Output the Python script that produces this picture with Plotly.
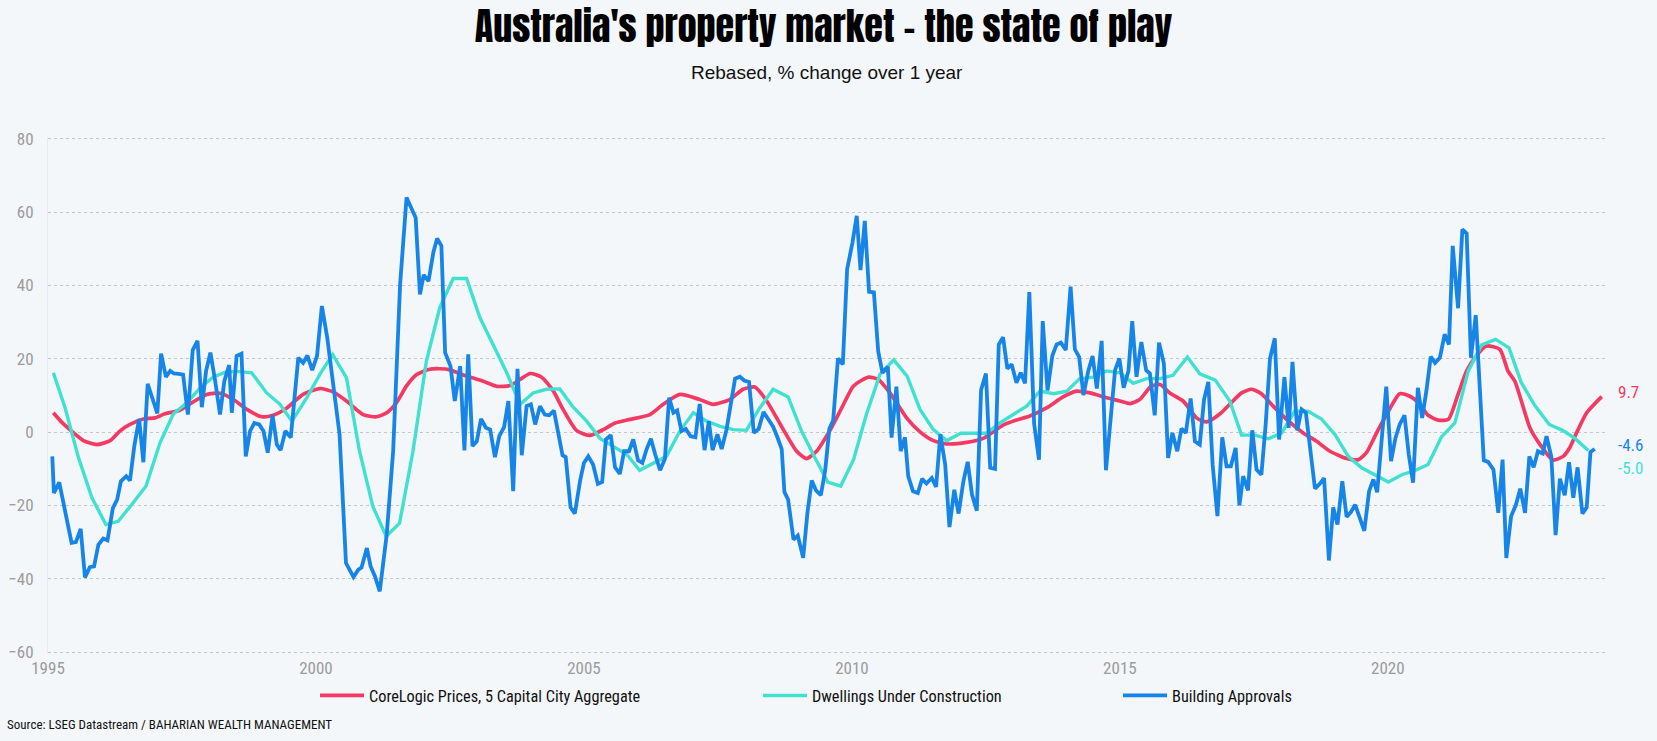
import plotly.graph_objects as go

# ---------------- data (decimal years, % change over 1 year) ----------------
cl_t = [1995.10, 1995.25, 1995.44, 1995.66, 1995.91, 1996.16, 1996.34, 1996.53, 1996.78, 1997.00,
        1997.18, 1997.46, 1997.68, 1997.96, 1998.21, 1998.46, 1998.71, 1998.99, 1999.20, 1999.45,
        1999.76, 2000.07, 2000.32, 2000.57, 2000.88, 2001.13, 2001.32, 2001.50, 2001.69, 2001.88,
        2002.10, 2002.31, 2002.50, 2002.75, 2003.12, 2003.37, 2003.62, 2003.81, 2004.00, 2004.21,
        2004.43, 2004.61, 2004.86, 2005.11, 2005.36, 2005.58, 2005.86, 2006.23, 2006.48, 2006.79,
        2007.16, 2007.41, 2007.72, 2007.97, 2008.19, 2008.41, 2008.72, 2008.97, 2009.15, 2009.34,
        2009.59, 2009.81, 2010.03, 2010.31, 2010.49, 2010.71, 2011.02, 2011.27, 2011.52, 2011.77,
        2012.14, 2012.45, 2012.82, 2013.07, 2013.32, 2013.63, 2013.94, 2014.19, 2014.44, 2014.75,
        2015.00, 2015.19, 2015.37, 2015.59, 2015.75, 2015.93, 2016.18, 2016.43, 2016.62, 2016.87,
        2017.05, 2017.27, 2017.46, 2017.64, 2017.86, 2018.11, 2018.42, 2018.67, 2018.92, 2019.23,
        2019.45, 2019.60, 2019.79, 2020.01, 2020.22, 2020.41, 2020.60, 2020.75, 2020.94, 2021.13,
        2021.31, 2021.47, 2021.65, 2021.84, 2022.09, 2022.24, 2022.37, 2022.65, 2022.84, 2023.08,
        2023.27, 2023.39, 2023.52, 2023.71, 2023.99]
cl_v = [5.3, 2.8, 0.3, -2.3, -3.4, -2.3, 0.3, 2.1, 3.6, 3.9,
        5.0, 6.0, 8.0, 10.3, 10.6, 8.9, 6.2, 4.2, 4.6, 6.5,
        10.3, 11.9, 11.0, 8.5, 4.8, 4.2, 5.3, 8.0, 12.6, 15.7,
        17.1, 17.3, 17.0, 15.6, 13.9, 12.5, 12.7, 14.4, 16.0, 15.0,
        11.2, 6.2, 0.5, -0.9, 0.7, 2.5, 3.5, 4.8, 7.6, 10.3,
        8.9, 7.6, 8.9, 11.7, 12.3, 8.5, 0.7, -5.2, -7.2, -5.2,
        0.5, 6.6, 12.6, 15.0, 14.4, 10.7, 3.9, 0.1, -2.3, -3.2,
        -2.8, -1.7, 1.9, 3.3, 4.4, 6.6, 9.6, 11.2, 10.7, 9.4,
        8.5, 7.8, 8.9, 12.6, 13.0, 10.7, 8.5, 3.9, 2.8, 5.0,
        7.6, 10.7, 11.7, 10.5, 7.1, 3.5, -0.2, -2.5, -5.2, -7.2,
        -7.5, -5.6, -0.2, 5.7, 10.5, 9.8, 7.6, 4.6, 3.3, 3.5,
        10.3, 16.7, 20.8, 23.5, 22.6, 16.7, 13.9, 1.2, -3.4, -7.6,
        -6.6, -4.3, -0.2, 5.3, 9.7]

duc_t = [1995.10, 1995.32, 1995.57, 1995.82, 1996.08, 1996.31, 1996.56, 1996.83, 1997.09, 1997.34,
         1997.59, 1997.84, 1998.08, 1998.33, 1998.58, 1998.80, 1999.08, 1999.33, 1999.55, 1999.83,
         2000.07, 2000.31, 2000.57, 2000.81, 2001.06, 2001.31, 2001.56, 2001.81, 2002.06, 2002.31,
         2002.56, 2002.81, 2003.06, 2003.31, 2003.56, 2003.81, 2004.05, 2004.30, 2004.55, 2004.80,
         2005.05, 2005.30, 2005.55, 2005.80, 2006.04, 2006.29, 2006.54, 2006.79, 2007.04, 2007.29,
         2007.54, 2007.79, 2008.03, 2008.28, 2008.53, 2008.81, 2009.06, 2009.31, 2009.55, 2009.79,
         2010.03, 2010.27, 2010.52, 2010.78, 2011.03, 2011.27, 2011.52, 2011.77, 2012.03, 2012.28,
         2012.51, 2012.76, 2013.01, 2013.26, 2013.51, 2013.76, 2014.01, 2014.25, 2014.50, 2014.75,
         2015.00, 2015.25, 2015.50, 2015.75, 2015.99, 2016.26, 2016.49, 2016.78, 2017.05, 2017.27,
         2017.52, 2017.77, 2018.02, 2018.26, 2018.51, 2018.76, 2019.01, 2019.26, 2019.51, 2019.76,
         2020.01, 2020.26, 2020.50, 2020.75, 2021.00, 2021.25, 2021.50, 2021.75, 2022.01, 2022.26,
         2022.49, 2022.74, 2023.01, 2023.26, 2023.49, 2023.74]
duc_v = [16.2, 6.6, -7.0, -17.9, -25.2, -24.3, -19.8, -14.7, -2.9, 5.0,
         8.0, 12.1, 15.0, 16.5, 16.5, 16.2, 10.7, 7.6, 3.0, 9.4,
         15.7, 21.2, 14.8, -5.0, -20.2, -28.4, -24.8, -5.2, 19.4, 34.0,
         41.9, 41.9, 31.2, 23.9, 16.2, 7.6, 10.7, 11.7, 11.8, 6.8,
         3.0, -1.7, -3.8, -6.1, -10.4, -8.6, -6.6, 0.3, 5.3, 3.0,
         1.6, 0.7, 0.5, 6.6, 11.7, 9.6, 0.3, -7.0, -13.6, -14.7,
         -7.5, 4.8, 15.7, 19.7, 15.3, 6.2, 0.7, -2.3, -0.3, -0.3,
         -0.3, 2.5, 4.8, 7.1, 11.2, 10.5, 11.2, 14.6, 15.0, 16.7,
         16.2, 13.3, 14.6, 14.6, 15.5, 20.5, 15.9, 14.2, 8.5, -0.8,
         -0.8, -1.8, -0.2, 5.7, 5.7, 3.6, -0.6, -6.6, -9.7, -11.7,
         -13.6, -11.6, -10.5, -8.8, -1.3, 2.5, 16.7, 23.8, 25.3, 23.0,
         13.5, 7.3, 2.1, 0.5, -1.7, -5.0]

ba_t = [1995.08, 1995.11, 1995.21, 1995.32, 1995.44, 1995.52, 1995.61, 1995.69, 1995.78, 1995.86,
        1995.94, 1996.03, 1996.11, 1996.21, 1996.29, 1996.36, 1996.46, 1996.53, 1996.61, 1996.70,
        1996.78, 1996.86, 1996.95, 1997.04, 1997.11, 1997.20, 1997.28, 1997.35, 1997.44, 1997.52,
        1997.61, 1997.70, 1997.79, 1997.87, 1997.95, 1998.03, 1998.12, 1998.21, 1998.29, 1998.38,
        1998.43, 1998.52, 1998.61, 1998.69, 1998.77, 1998.85, 1998.94, 1999.02, 1999.10, 1999.19,
        1999.27, 1999.34, 1999.43, 1999.53, 1999.67, 1999.76, 1999.84, 1999.93, 2000.02, 2000.11,
        2000.21, 2000.32, 2000.44, 2000.56, 2000.70, 2000.79, 2000.85, 2000.95, 2001.02, 2001.10,
        2001.19, 2001.32, 2001.44, 2001.57, 2001.69, 2001.86, 2001.94, 2002.01, 2002.10, 2002.19,
        2002.26, 2002.34, 2002.41, 2002.51, 2002.59, 2002.69, 2002.77, 2002.84, 2002.92, 2003.00,
        2003.08, 2003.17, 2003.25, 2003.34, 2003.42, 2003.51, 2003.59, 2003.68, 2003.76, 2003.84,
        2003.93, 2004.01, 2004.09, 2004.18, 2004.27, 2004.35, 2004.44, 2004.52, 2004.60, 2004.66,
        2004.75, 2004.83, 2004.93, 2005.00, 2005.08, 2005.17, 2005.26, 2005.34, 2005.41, 2005.50,
        2005.58, 2005.67, 2005.75, 2005.84, 2005.92, 2006.01, 2006.09, 2006.17, 2006.25, 2006.33,
        2006.42, 2006.51, 2006.59, 2006.67, 2006.74, 2006.82, 2006.90, 2006.99, 2007.08, 2007.16,
        2007.25, 2007.33, 2007.40, 2007.49, 2007.57, 2007.66, 2007.74, 2007.82, 2007.91, 2007.99,
        2008.08, 2008.17, 2008.26, 2008.35, 2008.44, 2008.53, 2008.61, 2008.69, 2008.74, 2008.81,
        2008.91, 2008.99, 2009.09, 2009.17, 2009.25, 2009.33, 2009.42, 2009.50, 2009.58, 2009.65,
        2009.74, 2009.83, 2009.91, 2010.01, 2010.09, 2010.16, 2010.24, 2010.32, 2010.41, 2010.49,
        2010.57, 2010.67, 2010.74, 2010.83, 2010.91, 2010.99, 2011.05, 2011.14, 2011.23, 2011.31,
        2011.39, 2011.49, 2011.57, 2011.65, 2011.74, 2011.82, 2011.91, 2011.99, 2012.08, 2012.16,
        2012.24, 2012.33, 2012.41, 2012.50, 2012.58, 2012.67, 2012.74, 2012.82, 2012.90, 2012.98,
        2013.07, 2013.15, 2013.23, 2013.31, 2013.40, 2013.49, 2013.56, 2013.65, 2013.74, 2013.82,
        2013.90, 2013.99, 2014.08, 2014.16, 2014.24, 2014.32, 2014.41, 2014.49, 2014.57, 2014.66,
        2014.74, 2014.83, 2014.91, 2014.99, 2015.07, 2015.16, 2015.23, 2015.31, 2015.40, 2015.49,
        2015.56, 2015.65, 2015.73, 2015.82, 2015.90, 2015.98, 2016.07, 2016.15, 2016.23, 2016.32,
        2016.40, 2016.49, 2016.57, 2016.65, 2016.73, 2016.82, 2016.91, 2016.99, 2017.07, 2017.16,
        2017.23, 2017.30, 2017.39, 2017.47, 2017.55, 2017.64, 2017.72, 2017.80, 2017.89, 2017.97,
        2018.07, 2018.15, 2018.22, 2018.31, 2018.39, 2018.47, 2018.56, 2018.64, 2018.73, 2018.81,
        2018.90, 2018.98, 2019.06, 2019.15, 2019.23, 2019.31, 2019.39, 2019.47, 2019.56, 2019.65,
        2019.73, 2019.80, 2019.88, 2019.97, 2020.06, 2020.14, 2020.22, 2020.31, 2020.39, 2020.47,
        2020.56, 2020.64, 2020.72, 2020.80, 2020.88, 2020.97, 2021.06, 2021.14, 2021.21, 2021.31,
        2021.39, 2021.47, 2021.55, 2021.64, 2021.79, 2021.87, 2021.97, 2022.06, 2022.14, 2022.21,
        2022.30, 2022.39, 2022.47, 2022.56, 2022.64, 2022.72, 2022.80, 2022.89, 2022.96, 2023.05,
        2023.13, 2023.21, 2023.30, 2023.38, 2023.46, 2023.54, 2023.63, 2023.71, 2023.78, 2023.86]
ba_v = [-6.6, -16.6, -13.7, -21.6, -30.2, -30.0, -26.4, -39.6, -36.8, -36.6,
        -30.7, -29.0, -29.5, -20.7, -18.4, -13.4, -12.0, -13.2, -3.8, 3.6,
        -8.2, 13.2, 9.4, 5.1, 21.4, 15.1, 16.7, 16.0, 15.9, 15.7,
        4.8, 22.4, 24.9, 6.8, 16.7, 21.7, 13.9, 4.8, 13.9, 18.3,
        5.3, 20.8, 21.4, -6.6, 0.3, 2.5, 2.1, 0.3, -5.6, 4.6,
        -3.4, -4.9, 0.3, -1.5, 20.3, 18.9, 20.9, 16.9, 20.8, 34.4,
        25.8, 13.0, -0.6, -35.7, -39.5, -37.5, -36.9, -31.6, -36.6, -39.3,
        -43.4, -27.9, -5.2, 40.3, 64.0, 58.5, 37.6, 42.9, 41.2, 49.0,
        52.8, 50.8, 21.7, 18.0, 8.5, 18.0, -5.0, 21.2, -3.8, -2.5,
        3.6, 1.2, 0.7, -6.8, -1.1, 1.4, 8.5, -16.1, 17.3, -6.3,
        7.1, 7.6, 2.1, 7.1, 4.8, 4.6, 5.9, -0.2, -6.3, -6.8,
        -20.5, -22.2, -13.1, -8.4, -6.6, -8.8, -14.1, -13.6, -2.0, -0.8,
        -9.6, -11.4, -5.2, -5.2, -2.0, -7.7, -8.4, -4.6, -1.8, -6.1,
        -10.4, -7.3, 9.4, 5.3, 5.9, 0.3, 0.9, -1.1, -1.4, 7.7,
        -4.9, 3.0, -4.9, -0.6, -4.6, 0.7, 8.0, 14.6, 15.1, 14.1,
        13.7, -0.2, 0.9, 5.5, 3.5, 1.5, -1.4, -4.6, -16.3, -18.4,
        -29.3, -28.2, -34.3, -22.0, -13.2, -15.9, -17.2, -10.5, 1.0, 3.2,
        20.1, 18.5, 44.4, 51.7, 59.0, 44.2, 57.6, 38.3, 38.1, 22.1,
        16.2, 17.8, -1.5, 12.4, -5.2, -1.4, -12.0, -16.1, -16.6, -12.7,
        -14.0, -12.5, -14.9, -0.6, -8.8, -25.9, -15.7, -22.2, -13.4, -8.1,
        -17.0, -21.4, 11.5, 16.0, -9.7, -10.0, 23.9, 25.9, 17.3, 18.5,
        13.5, 16.2, 13.3, 38.2, 2.3, -7.5, 30.3, 11.4, 20.9, 23.9,
        24.4, 22.4, 39.7, 22.6, 20.5, 10.1, 16.7, 20.8, 11.9, 24.9,
        -10.4, 3.9, 16.9, 20.1, 12.1, 16.7, 30.3, 15.1, 24.6, 16.9,
        16.0, 4.6, 24.4, 18.8, -7.0, -0.2, -5.2, 1.0, -0.2, 9.2,
        -2.5, -3.4, 8.9, 13.7, -8.8, -22.9, -1.4, -9.3, -9.3, -4.3,
        -20.0, -12.0, -15.9, 0.5, -10.2, -11.6, 2.1, 20.0, 25.6, -2.0,
        15.0, 1.2, 19.2, 0.5, 6.2, 5.3, -5.2, -15.4, -14.1, -12.5,
        -35.0, -20.5, -25.2, -13.4, -23.1, -21.8, -19.8, -23.1, -26.9, -16.1,
        -12.9, -16.4, -2.5, 12.4, -7.9, -1.7, 2.1, 4.6, -6.1, -13.8,
        12.1, 3.9, 11.4, 20.6, 18.9, 20.3, 26.7, 23.9, 50.8, 33.8,
        55.3, 54.2, 20.3, 31.9, -7.7, -8.1, -10.2, -22.0, -7.5, -34.3,
        -22.9, -19.8, -15.4, -22.0, -6.6, -9.6, -5.2, -5.8, -1.1, -6.7,
        -28.1, -12.7, -17.2, -8.2, -17.9, -9.6, -22.2, -20.5, -5.4, -4.6]

year_ticks = [1995, 2000, 2005, 2010, 2015, 2020]
y_ticks = [-60, -40, -20, 0, 20, 40, 60, 80]

names = ["CoreLogic Prices, 5 Capital City Aggregate", "Dwellings Under Construction", "Building Approvals"]
colors = ["#f43a63", "#41e1d1", "#1785e8"]

COND = "Roboto Condensed, Oswald, DejaVu Sans Condensed, sans-serif"

fig = go.Figure()
fig.add_trace(go.Scatter(x=cl_t, y=cl_v, mode="lines", name=names[0],
                         line=dict(color=colors[0], width=3.7, shape="spline", smoothing=0.6),
                         legend="legend"))
fig.add_trace(go.Scatter(x=duc_t, y=duc_v, mode="lines", name=names[1],
                         line=dict(color=colors[1], width=3.4), legend="legend2"))
fig.add_trace(go.Scatter(x=ba_t, y=ba_v, mode="lines", name=names[2],
                         line=dict(color=colors[2], width=3.8), legend="legend3"))

# end-value labels
series_last = [(cl_v[-1], colors[0], 5),
               (ba_v[-1], colors[2], 4),
               (duc_v[-1], colors[1], -17)]
for v, c, ys in series_last:
    fig.add_annotation(x=1, xref="paper", y=v, yref="y", text=f"{v:.1f}",
                       showarrow=False, xanchor="left", yanchor="middle", xshift=10, yshift=ys,
                       font=dict(family=COND, size=17, color=c))

# subtitle & source
fig.add_annotation(x=0.5, xref="paper", y=1.1257, yref="paper", text="Rebased, % change over 1 year",
                   showarrow=False, xanchor="center", yanchor="middle",
                   font=dict(family="Liberation Sans, Arial, sans-serif", size=19, color="#111"))
fig.add_annotation(x=-0.0275, xref="paper", y=-0.137, yref="paper",
                   text="Source: LSEG Datastream / BAHARIAN WEALTH MANAGEMENT",
                   showarrow=False, xanchor="left", yanchor="middle",
                   font=dict(family=COND, size=13, color="#111"))

legend_common = dict(orientation="h", yanchor="middle", y=-0.081, xanchor="left",
                     bgcolor="rgba(0,0,0,0)", itemwidth=44,
                     font=dict(family=COND, size=16.3, color="#111"))
fig.update_layout(
    width=1657, height=741,
    paper_bgcolor="#f3f7fa", plot_bgcolor="#f3f7fa",
    margin=dict(l=48, r=51, t=137, b=87, pad=0, autoexpand=False),
    title=dict(text="Australia's property market - the state of play", x=0.497, xref="container",
               xanchor="center", y=1 - 29 / 741, yref="container", yanchor="middle",
               font=dict(family="Anton, Impact, Oswald, sans-serif", size=38, color="#000")),
    xaxis=dict(range=[1995, 2024.07], tickmode="array", tickvals=year_ticks,
               ticktext=[str(y) for y in year_ticks], showgrid=False, zeroline=False,
               showline=False, ticks="", ticklabelstandoff=2, automargin=False,
               tickfont=dict(family=COND, size=17, color="#9b9b9b")),
    yaxis=dict(range=[-60.5, 80.5], tickmode="array", tickvals=y_ticks,
               showgrid=True, gridcolor="#c4c7ca", griddash="dot", gridwidth=1,
               zeroline=False, showline=True, linecolor="#e4ecf3", linewidth=1,
               ticks="", ticklabelstandoff=10, automargin=False,
               tickfont=dict(family=COND, size=17, color="#9b9b9b")),
    legend=dict(x=(315 - 48) / 1558, **legend_common),
    legend2=dict(x=(758 - 48) / 1558, **legend_common),
    legend3=dict(x=(1118 - 48) / 1558, **legend_common),
    showlegend=True,
)

fig.write_html("out.html", include_plotlyjs=True, config={"displayModeBar": False},
               post_script="document.body.style.margin='0';document.body.style.overflow='hidden';")
